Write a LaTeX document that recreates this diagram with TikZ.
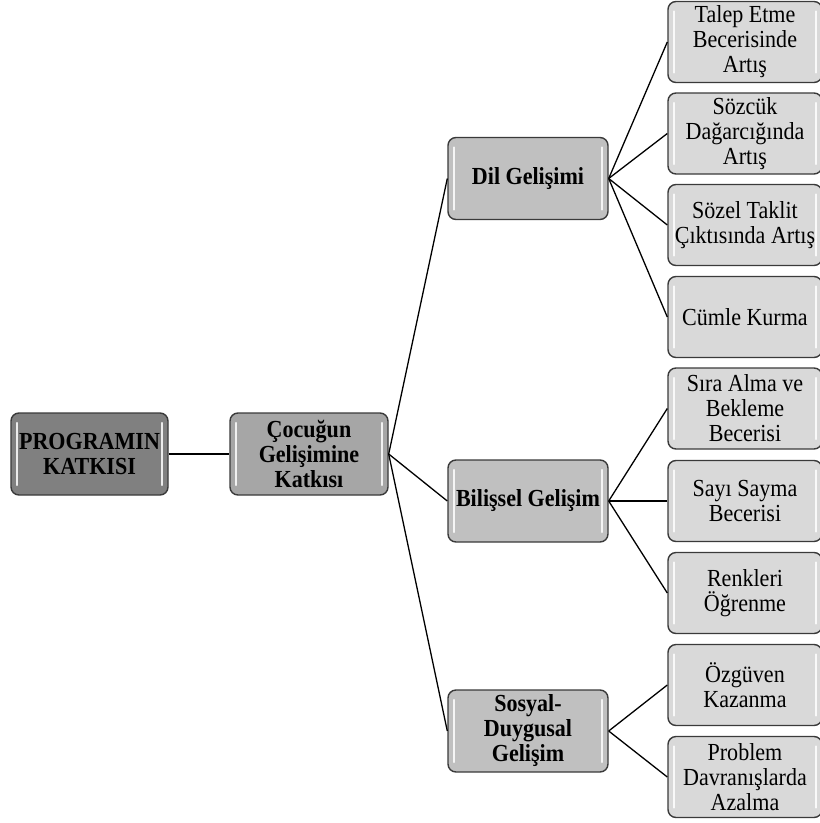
\documentclass[tikz,border=0pt]{standalone}
\usepackage{fontspec}
\setmainfont[FakeStretch=0.9]{Liberation Serif}
\definecolor{bordc}{HTML}{3A3A3A}
\definecolor{rootc}{HTML}{808080}
\definecolor{midc}{HTML}{A6A6A6}
\definecolor{lvlc}{HTML}{C0C0C0}
\definecolor{leafc}{HTML}{D9D9D9}
\tikzset{
  box/.style={draw=bordc, line width=1.4pt, rounded corners=8pt, align=center, inner sep=0pt,
    font=\fontsize{24.5}{25}\selectfont,
    path picture={
      \draw[white, opacity=0.85, line width=2.2pt, line cap=round]
        ([xshift=6pt,yshift=-10pt]path picture bounding box.north west) --
        ([xshift=6pt,yshift=10pt]path picture bounding box.south west);
      \draw[white, opacity=0.85, line width=2.2pt, line cap=round]
        ([xshift=-6pt,yshift=-10pt]path picture bounding box.north east) --
        ([xshift=-6pt,yshift=10pt]path picture bounding box.south east);
    }},
  rootbox/.style={box, fill=rootc, minimum width=157pt, minimum height=82pt, font=\fontsize{24.5}{25}\selectfont\bfseries},
  midbox/.style={box, fill=midc, minimum width=158pt, minimum height=82pt, font=\fontsize{24.5}{25}\selectfont\bfseries},
  lvlbox/.style={box, fill=lvlc, minimum width=160pt, minimum height=82pt, font=\fontsize{24.5}{25}\selectfont\bfseries},
  leafbox/.style={box, fill=leafc, minimum width=154pt, minimum height=81pt},
  conn/.style={draw=black, line width=1.3pt}
}
\begin{document}
\begin{tikzpicture}[x=1pt,y=-1pt]
\useasboundingbox (0,0) rectangle (820,823);
\node[rootbox] (root) at (89.5,454) {PROGRAMIN\\KATKISI};
\node[midbox] (cg) at (309,454) {Çocuğun\\Gelişimine\\Katkısı};
\node[lvlbox] (dil) at (528,178.5) {Dil Gelişimi};
\node[lvlbox] (bil) at (528,501) {Bilişsel Gelişim};
\node[lvlbox] (sos) at (528,731) {Sosyal-\\Duygusal\\Gelişim};
\node[leafbox] (l1) at (745,42) {Talep Etme\\Becerisinde\\Artış};
\node[leafbox] (l2) at (745,133.5) {Sözcük\\Dağarcığında\\Artış};
\node[leafbox] (l3) at (745,225) {Sözel Taklit\\Çıktısında Artış};
\node[leafbox] (l4) at (745,317) {Cümle Kurma};
\node[leafbox] (l5) at (745,408.5) {Sıra Alma ve\\Bekleme\\Becerisi};
\node[leafbox] (l6) at (745,501) {Sayı Sayma\\Becerisi};
\node[leafbox] (l7) at (745,593) {Renkleri\\Öğrenme};
\node[leafbox] (l8) at (745,685) {Özgüven\\Kazanma};
\node[leafbox] (l9) at (745,777) {Problem\\Davranışlarda\\Azalma};
\draw[conn] (root.east) -- (cg.west);
\draw[conn] (cg.east) -- (dil.west);
\draw[conn] (cg.east) -- (bil.west);
\draw[conn] (cg.east) -- (sos.west);
\foreach \l in {l1,l2,l3,l4} \draw[conn] (dil.east) -- (\l.west);
\foreach \l in {l5,l6,l7} \draw[conn] (bil.east) -- (\l.west);
\foreach \l in {l8,l9} \draw[conn] (sos.east) -- (\l.west);
\end{tikzpicture}
\end{document}
